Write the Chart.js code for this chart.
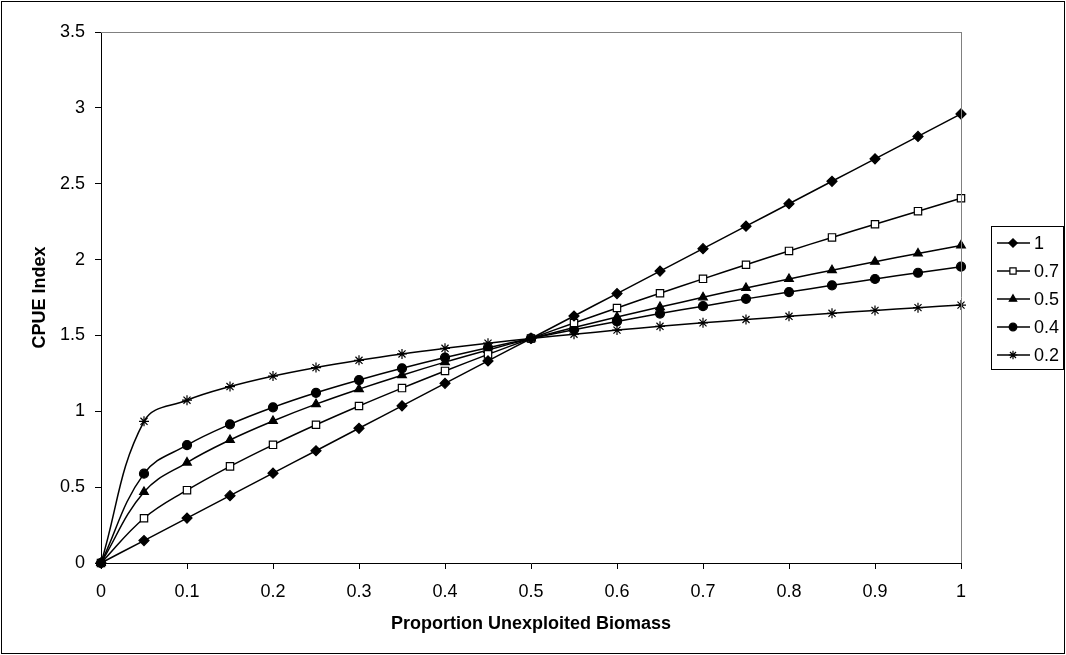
<!DOCTYPE html>
<html>
<head>
<meta charset="utf-8">
<script src="https://cdn.jsdelivr.net/npm/chart.js@4.4.1/dist/chart.umd.min.js"></script>
<style>
html,body{margin:0;padding:0;background:#fff;}
#wrap{position:relative;width:1066px;height:655px;}
</style>
</head>
<body>
<div id="wrap"><canvas id="c" width="1066" height="655"></canvas></div>
<script>
// ---- data ----
const biomass = [0,0.05,0.1,0.15,0.2,0.25,0.3,0.35,0.4,0.45,0.5,0.55,0.6,0.65,0.7,0.75,0.8,0.85,0.9,0.95,1];
const seriesNames = ["1","0.7","0.5","0.4","0.2"];
const cpue_1   = [0,0.148,0.296,0.444,0.592,0.74,0.888,1.036,1.184,1.332,1.48,1.628,1.776,1.924,2.072,2.22,2.368,2.516,2.664,2.812,2.96];
const cpue_07  = [0,0.295,0.480,0.637,0.779,0.911,1.035,1.153,1.266,1.375,1.48,1.582,1.681,1.778,1.873,1.966,2.057,2.146,2.233,2.319,2.404];
const cpue_05  = [0,0.468,0.662,0.811,0.936,1.047,1.146,1.238,1.324,1.404,1.48,1.552,1.621,1.687,1.751,1.813,1.872,1.930,1.986,2.040,2.093];
const cpue_04  = [0,0.589,0.777,0.914,1.026,1.122,1.206,1.283,1.354,1.419,1.48,1.538,1.592,1.644,1.693,1.741,1.786,1.830,1.872,1.913,1.953];
const cpue_02  = [0,0.934,1.073,1.163,1.232,1.288,1.336,1.378,1.415,1.449,1.48,1.508,1.535,1.560,1.583,1.605,1.626,1.646,1.665,1.683,1.700];
const xTickLabels = ["0","0.1","0.2","0.3","0.4","0.5","0.6","0.7","0.8","0.9","1"];
const yTickLabels = ["0","0.5","1","1.5","2","2.5","3","3.5"];
const xTitle = "Proportion Unexploited Biomass";
const yTitle = "CPUE Index";

const seriesValues = [cpue_1, cpue_07, cpue_05, cpue_04, cpue_02];
const markerStyles = [
  {pointStyle:'rectRot', radius:5, bg:'#000'},
  {pointStyle:'rect', radius:5.2, bg:'#fff'},
  {pointStyle:'triangle', radius:5, bg:'#000'},
  {pointStyle:'circle', radius:4.5, bg:'#000'},
  {pointStyle:'star', radius:5, bg:'#000'}
];

const FONT = "'Liberation Sans', Arial, sans-serif";

const datasets = seriesValues.map((vals, i) => ({
  label: seriesNames[i],
  data: vals.map((v, j) => ({x: biomass[j], y: v})),
  borderColor: '#000',
  borderWidth: 1.5,
  pointStyle: markerStyles[i].pointStyle,
  pointRadius: markerStyles[i].radius,
  pointHoverRadius: markerStyles[i].radius,
  pointBackgroundColor: markerStyles[i].bg,
  pointBorderColor: '#000',
  pointBorderWidth: 1.2,
  tension: 0.4,
  fill: false,
  clip: false
}));

const framePlugin = {
  id: 'frame',
  beforeDraw(chart) {
    const ctx = chart.ctx;
    ctx.save();
    ctx.fillStyle = '#fff';
    ctx.fillRect(0, 0, chart.width, chart.height);
    ctx.restore();
  },
  afterDraw(chart) {
    const ctx = chart.ctx;
    const a = chart.chartArea;
    ctx.save();
    ctx.strokeStyle = '#808080';
    ctx.lineWidth = 1;
    ctx.beginPath();
    ctx.moveTo(a.left, Math.round(a.top) + 0.5);
    ctx.lineTo(a.right, Math.round(a.top) + 0.5);
    ctx.moveTo(Math.round(a.right) + 0.5, a.top);
    ctx.lineTo(Math.round(a.right) + 0.5, a.bottom);
    ctx.stroke();
    ctx.strokeStyle = '#000';
    ctx.strokeRect(1.5, 1.5, chart.width - 3, chart.height - 3);

    // legend
    const bx = 991.5, by = 226.5, bw = 72, bh = 143;
    ctx.strokeStyle = '#000';
    ctx.lineWidth = 1;
    ctx.strokeRect(bx, by, bw, bh);
    ctx.font = '18px ' + FONT;
    ctx.textBaseline = 'middle';
    ctx.textAlign = 'left';
    chart.data.datasets.forEach((ds, i) => {
      const y = 243 + i * 28;
      ctx.beginPath();
      ctx.lineWidth = 1.5;
      ctx.strokeStyle = '#000';
      ctx.moveTo(997, y);
      ctx.lineTo(1030, y);
      ctx.stroke();
      ctx.fillStyle = ds.pointBackgroundColor;
      ctx.strokeStyle = '#000';
      ctx.lineWidth = 1.2;
      Chart.helpers.drawPoint(ctx, {pointStyle: ds.pointStyle, radius: ds.pointRadius * 0.85, borderWidth: 1.2}, 1013, y);
      ctx.fillStyle = '#000';
      ctx.fillText(ds.label, 1034, y + 1);
    });
    ctx.restore();
  }
};

new Chart(document.getElementById('c'), {
  type: 'line',
  data: { datasets },
  options: {
    responsive: false,
    animation: false,
    devicePixelRatio: 1,
    layout: { padding: { left: 0, top: 32, right: 105, bottom: 0 } },
    plugins: { legend: { display: false }, tooltip: { enabled: false } },
    scales: {
      x: {
        type: 'linear',
        min: 0, max: 1,
        afterFit(scale) { scale.height = 92; },
        ticks: {
          stepSize: 0.1,
          color: '#000',
          font: { family: FONT, size: 18 },
          padding: 12,
          maxRotation: 0,
          callback: (v, idx) => xTickLabels[idx] !== undefined ? xTickLabels[idx] : ''
        },
        grid: { drawOnChartArea: false, drawTicks: true, tickLength: 6, color: '#000' },
        border: { color: '#000', width: 1 },
        title: { display: true, text: xTitle, color: '#000', font: { family: FONT, size: 18, weight: 'bold' }, padding: { bottom: 20 } }
      },
      y: {
        min: 0, max: 3.5,
        afterFit(scale) { scale.width = 101; },
        ticks: {
          stepSize: 0.5,
          color: '#000',
          font: { family: FONT, size: 18 },
          padding: 10,
          callback: (v, idx) => yTickLabels[idx] !== undefined ? yTickLabels[idx] : ''
        },
        grid: { drawOnChartArea: false, drawTicks: true, tickLength: 6, color: '#000' },
        border: { color: '#000', width: 1 },
        title: { display: true, text: yTitle, color: '#000', font: { family: FONT, size: 18, weight: 'bold' }, padding: { top: 29 } }
      }
    }
  },
  plugins: [framePlugin]
});
</script>
</body>
</html>
